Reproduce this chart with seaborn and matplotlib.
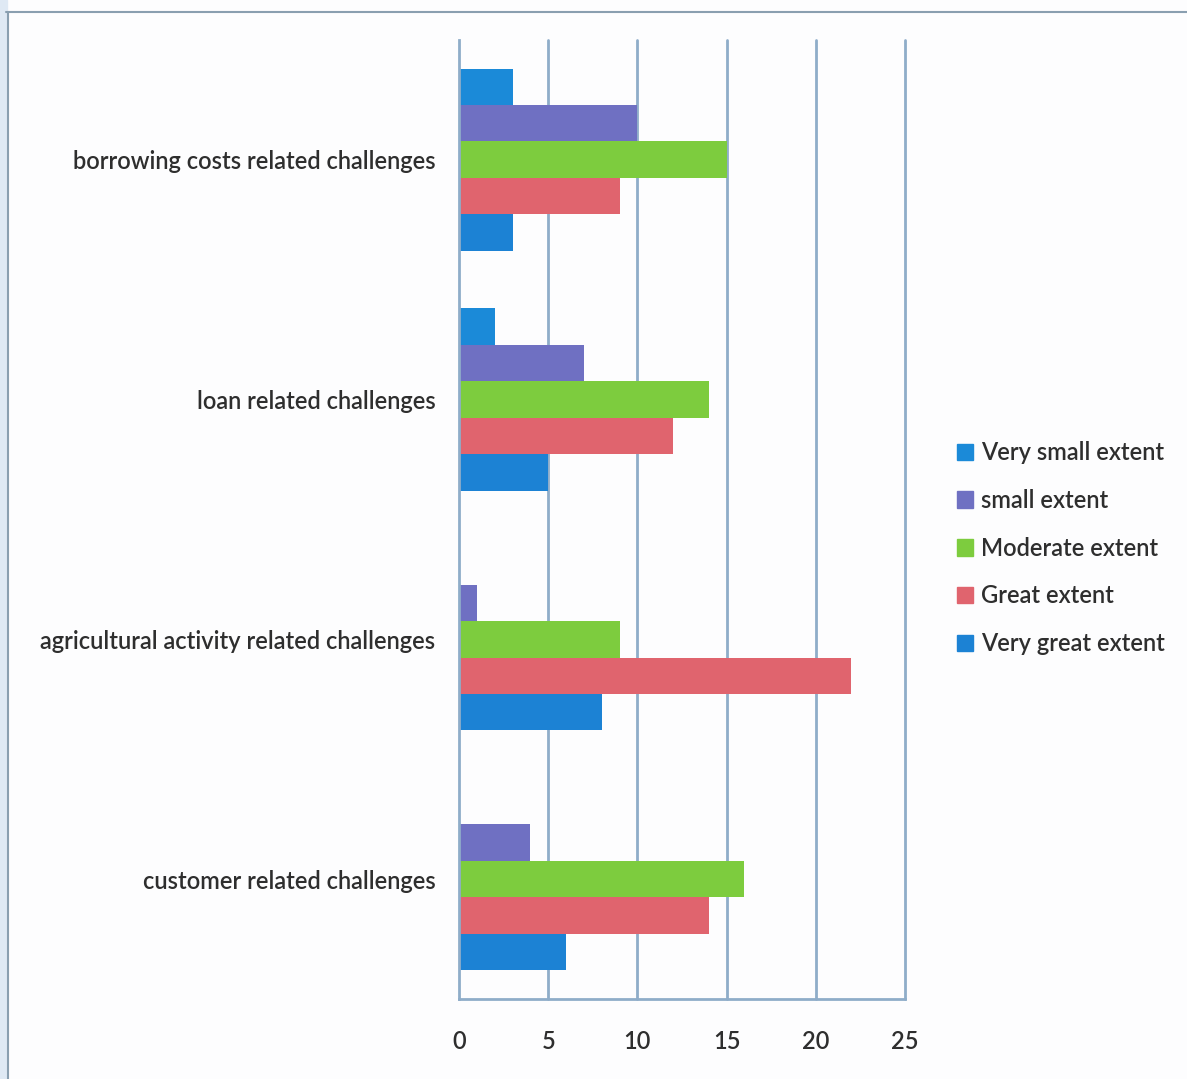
import matplotlib
matplotlib.use("Agg")
import matplotlib.pyplot as plt
from matplotlib.lines import Line2D
from matplotlib.patches import Rectangle
import seaborn as sns
import pandas as pd

categories = [
    "borrowing costs related challenges",
    "loan related challenges",
    "agricultural activity related challenges",
    "customer related challenges",
]
series_names = ["Very small extent", "small extent", "Moderate extent",
                "Great extent", "Very great extent"]
very_small = [3, 2, 0, 0]
small = [10, 7, 1, 4]
moderate = [15, 14, 9, 16]
great = [9, 12, 22, 14]
very_great = [3, 5, 8, 6]
x_ticks = [0, 5, 10, 15, 20, 25]

colors = ["#1b8ad8", "#6f70c2", "#7dcc3e", "#e0646e", "#1c82d4"]
grid_color = "#8fadc9"
text_color = "#2e2e2e"

rows = []
for name, vals in zip(series_names, [very_small, small, moderate, great, very_great]):
    for cat, v in zip(categories, vals):
        rows.append({"category": cat, "extent": name, "value": v})
df = pd.DataFrame(rows)

sns.set_theme(style="white")
plt.rcParams["font.family"] = ["Lato", "DejaVu Sans"]

fig = plt.figure(figsize=(11.87, 10.79), dpi=100)
fig.patch.set_facecolor("#fdfdfe")
ax = fig.add_axes([0.3867, 0.0741, 0.3757, 0.889])
ax.set_facecolor("none")

sns.barplot(data=df, y="category", x="value", hue="extent", order=categories,
            hue_order=series_names, palette=colors, orient="h", width=0.76,
            saturation=1, ax=ax, errorbar=None, linewidth=0, legend=False)

ax.set_xlim(0, 25)
ax.set_ylim(3.5, -0.5)
ax.set_xlabel("")
ax.set_ylabel("")

# vertical gridlines at each major value
for t in x_ticks[1:]:
    ax.axvline(t, color=grid_color, linewidth=2, zorder=0, clip_on=False)

ax.set_xticks(x_ticks)
ax.set_xticklabels([str(t) for t in x_ticks], fontsize=17, color=text_color,
                   fontweight="semibold")

# category labels centred between boundary ticks
ax.set_yticks(range(len(categories)))
ax.set_yticklabels(categories, fontsize=17, color=text_color, fontweight="semibold")
ax.tick_params(axis="y", length=0, pad=17)
ax.set_yticks([-0.5, 0.5, 1.5, 2.5, 3.5], minor=True)
ax.tick_params(axis="y", which="minor", length=6, width=1.5, color=grid_color, direction="out")
ax.tick_params(axis="x", length=6, width=1.5, color=grid_color, direction="out", pad=16)

for side in ["top", "right"]:
    ax.spines[side].set_visible(False)
for side in ["left", "bottom"]:
    ax.spines[side].set_color(grid_color)
    ax.spines[side].set_linewidth(2)

handles = [Rectangle((0, 0), 1, 1, color=c) for c in colors]
fig.legend(handles, series_names, loc="center left", bbox_to_anchor=(0.788, 0.492),
           frameon=False, handlelength=0.7, handleheight=0.7,
           handletextpad=0.35, labelspacing=1.05, labelcolor=text_color,
           prop={"size": 17, "weight": "semibold", "family": ["Lato", "DejaVu Sans"]})

# page frame lines
fig.add_artist(Line2D([0.005, 1.0], [0.989, 0.989], color="#8a9fb0", linewidth=1.5))
fig.add_artist(Line2D([0.0065, 0.0065], [0.0, 0.989], color="#8a9fb0", linewidth=1.5))
fig.add_artist(Rectangle((0, 0), 0.006, 1, color="#dfe9f4", transform=fig.transFigure, zorder=-1))

fig.savefig("out.png", dpi=100, facecolor=fig.get_facecolor())
